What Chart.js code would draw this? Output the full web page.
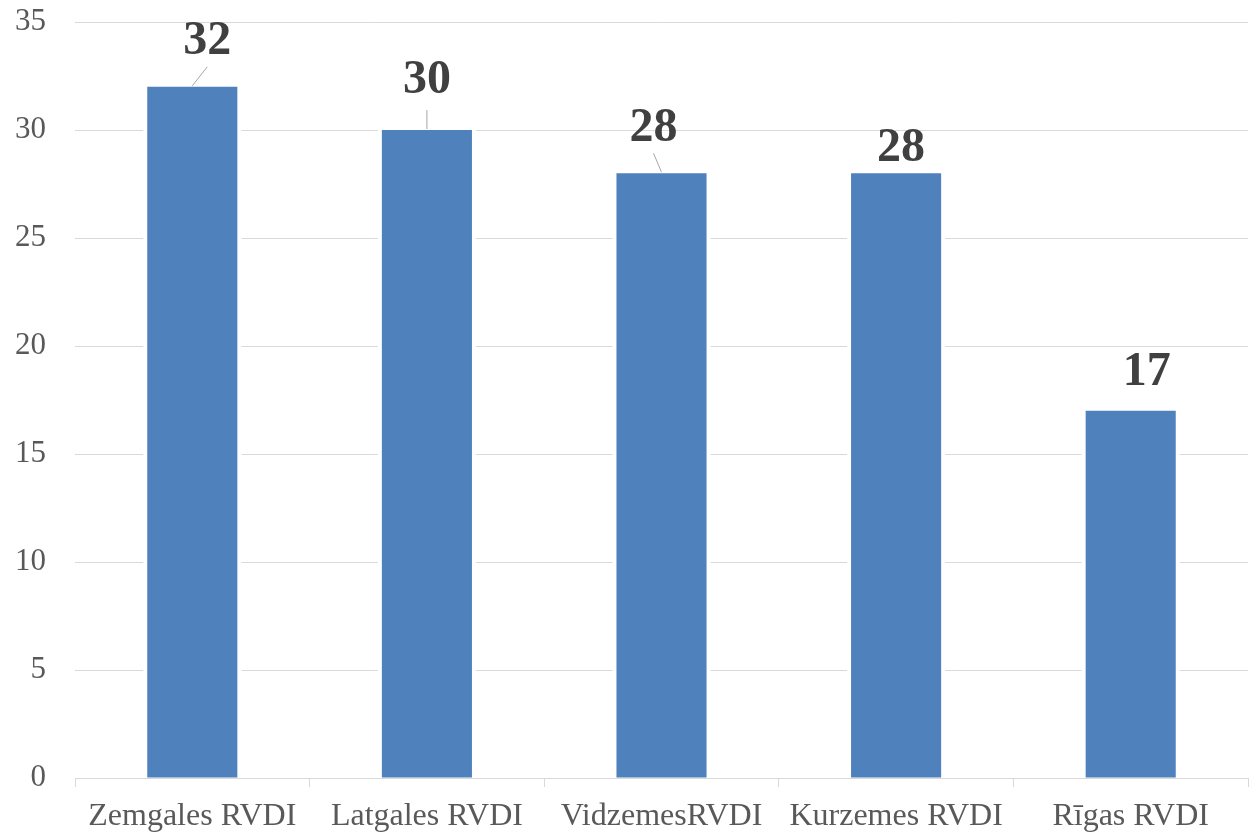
<!DOCTYPE html>
<html>
<head>
<meta charset="utf-8">
<script src="https://cdn.jsdelivr.net/npm/chart.js@4/dist/chart.umd.min.js"></script>
<style>
html,body{margin:0;padding:0;background:#fff;}
canvas{display:block;}
</style>
</head>
<body>
<canvas id="c" width="1253" height="833"></canvas>
<script>
const categories = ['Zemgales RVDI', 'Latgales RVDI', 'VidzemesRVDI', 'Kurzemes RVDI', 'Rīgas RVDI'];
const values = [32, 30, 28, 28, 17];
const yMin = 0, yMax = 35, yStep = 5;

// label placement relative to bar top centre (pixels) and whether a leader line is drawn
const labelOffsets = [
  {dx: 15, dy: -45, leader: true},
  {dx: 0, dy: -49, leader: true},
  {dx: -8, dy: -45, leader: true},
  {dx: 5, dy: -25, leader: false},
  {dx: 16, dy: -38, leader: false}
];

const barGapPlugin = {
  id: 'barGap',
  beforeDatasetsDraw(chart) {
    const ctx = chart.ctx;
    const meta = chart.getDatasetMeta(0);
    ctx.save();
    ctx.fillStyle = '#ffffff';
    meta.data.forEach(b => {
      ctx.fillRect(b.x - b.width / 2 - 4, b.y, b.width + 8, b.base - b.y - 1);
    });
    ctx.restore();
  }
};

const labelPlugin = {
  id: 'valueLabels',
  afterDatasetsDraw(chart) {
    const ctx = chart.ctx;
    const meta = chart.getDatasetMeta(0);
    ctx.save();
    meta.data.forEach((b, i) => {
      const o = labelOffsets[i];
      const lx = b.x + o.dx, ly = b.y + o.dy;
      if (o.leader) {
        ctx.strokeStyle = '#a6a6a6';
        ctx.lineWidth = 1;
        ctx.beginPath();
        ctx.moveTo(b.x, b.y - 1);
        ctx.lineTo(b.x + o.dx, b.y - 20);
        ctx.stroke();
      }
      ctx.fillStyle = '#404040';
      ctx.font = 'bold 48px "Liberation Serif", "Times New Roman", serif';
      ctx.textAlign = 'center';
      ctx.textBaseline = 'middle';
      ctx.fillText(String(values[i]), lx, ly);
    });
    ctx.restore();
  }
};

new Chart(document.getElementById('c'), {
  type: 'bar',
  data: {
    labels: categories,
    datasets: [{
      data: values,
      backgroundColor: '#4F81BD',
      borderWidth: 0,
      categoryPercentage: 1.0,
      barPercentage: 0.384
    }]
  },
  options: {
    responsive: false,
    devicePixelRatio: 1,
    animation: false,
    layout: {padding: {top: 22, right: 5, bottom: 0, left: 0}},
    plugins: {legend: {display: false}, tooltip: {enabled: false}},
    scales: {
      x: {
        grid: {display: true, drawOnChartArea: false, drawTicks: true, tickLength: 9, color: '#d9d9d9', offset: true},
        border: {display: true, color: '#d9d9d9', width: 1},
        ticks: {color: '#595959', padding: 10, font: {family: '"Liberation Serif", "Times New Roman", serif', size: 32}},
        afterFit(s) { s.height = 55; s.paddingLeft = 0; s.paddingRight = 0; }
      },
      y: {
        min: yMin, max: yMax,
        ticks: {stepSize: yStep, color: '#595959', padding: 29, font: {family: '"Liberation Serif", "Times New Roman", serif', size: 31}},
        grid: {color: '#d9d9d9', drawTicks: false, lineWidth: 1},
        border: {display: false},
        afterFit(s) { s.width = 75; s.paddingTop = 0; s.paddingBottom = 0; }
      }
    }
  },
  plugins: [barGapPlugin, labelPlugin]
});
</script>
</body>
</html>
